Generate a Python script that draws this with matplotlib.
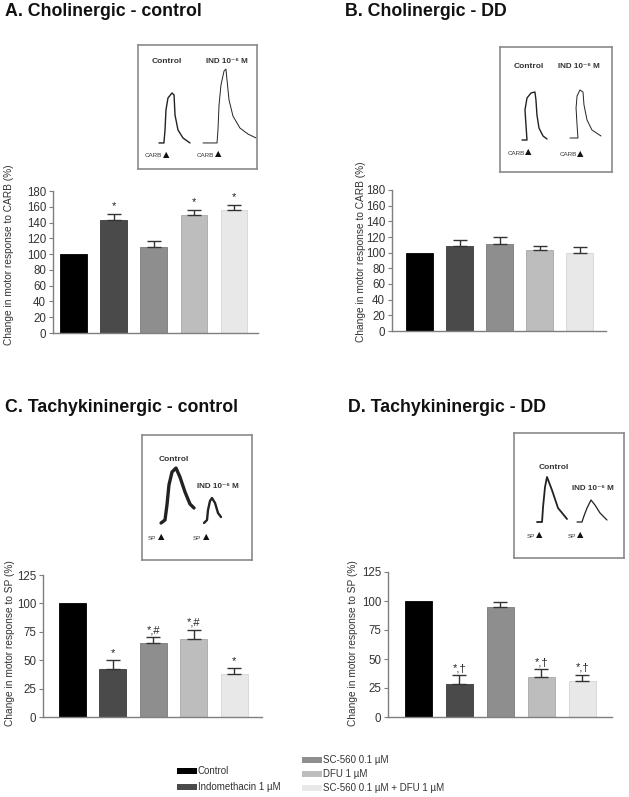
import matplotlib
matplotlib.use("Agg")
import matplotlib.pyplot as plt

plt.rcParams['font.family'] = ['Liberation Sans', 'DejaVu Sans']

groups = ['Control', 'Indomethacin 1 µM', 'SC-560 0.1 µM', 'DFU 1 µM',
          'SC-560 0.1 µM + DFU 1 µM']
colors = ['#000000', '#4a4a4a', '#8e8e8e', '#bdbdbd', '#e8e8e8']

# bar means and upper error (SEM) per panel
chol_ctrl = [100, 143, 109.5, 149.5, 155.5]
chol_ctrl_err = [0, 8, 6.5, 6.5, 7]
chol_ctrl_marks = ['', '*', '', '*', '*']

chol_dd = [100, 108.5, 111, 104, 99]
chol_dd_err = [0, 7.5, 8.5, 5, 8]
chol_dd_marks = ['', '', '', '', '']

tachy_ctrl = [100, 42, 65, 69, 37.5]
tachy_ctrl_err = [0, 8, 5.5, 8, 6]
tachy_ctrl_marks = ['', '*', '*,#', '*,#', '*']

tachy_dd = [100, 28.6, 94.6, 34.3, 31.4]
tachy_dd_err = [0, 7.7, 4.8, 7, 5.2]
tachy_dd_marks = ['', '*,†', '', '*,†', '*,†']

# inset tracings (percent of inset box)
trA_ctrl_x = [17.6, 21.8, 22.7, 23.5, 25.2, 28.6, 30.3, 31.1, 33.6, 37.8, 43.7]
trA_ctrl_y = [21, 21, 31.5, 47.6, 57.3, 61.3, 59.7, 43.5, 31.5, 25, 21]
trA_ind_x = [54.6, 66.4, 67.2, 68.1, 69.7, 72.3, 73.9, 74.8, 76.5, 79.8, 85.7, 92.4, 99.2]
trA_ind_y = [21, 21, 31.5, 51.6, 67.7, 79, 80.6, 71.8, 55.6, 42.7, 33, 28.2, 25]

trB_ctrl_x = [19.6, 24.1, 23.2, 22.3, 24.1, 27.7, 31.2, 32.1, 33, 34.8, 38.4, 42]
trB_ctrl_y = [25.6, 25.6, 37.6, 49.6, 59.2, 63.2, 64, 57.6, 45.6, 35.2, 28.8, 26.4]
trB_ind_x = [62.5, 69.6, 68.8, 67.9, 68.8, 71.4, 74.1, 75, 77.7, 82.1, 90.2]
trB_ind_y = [27.2, 27.2, 37.6, 51.2, 60.8, 65.6, 64, 53.6, 41.6, 33.6, 28.8]

trC_ctrl_x = [17.3, 20.9, 22.7, 24.5, 27.3, 30.9, 34.5, 39.1, 43.6, 47.3]
trC_ctrl_y = [29.6, 32, 44, 60, 70.4, 73.6, 66.4, 54.4, 44.8, 41.6]
trC_ind_x = [56.4, 59.1, 60, 61.8, 63.6, 66.4, 69.1, 71.8]
trC_ind_y = [29.6, 32, 40, 47.2, 49.6, 45.6, 37.6, 34.4]

trD_ctrl_x = [20.9, 25.5, 26.4, 28.2, 30, 34.5, 40, 48.2]
trD_ctrl_y = [28.8, 28.8, 40.8, 56.8, 64.8, 54.4, 40, 31.2]
trD_ind_x = [57.3, 61.8, 63.6, 66.4, 70, 73.6, 78.2, 84.5]
trD_ind_y = [28.8, 28.8, 33.6, 40, 46.4, 42.4, 36, 30.4]

W, H = 629, 797
fig = plt.figure(figsize=(W / 100, H / 100), dpi=100)


def px_axes(left, top, right, bottom):
    return fig.add_axes([left / W, 1 - bottom / H, (right - left) / W, (bottom - top) / H])


def bar_panel(box, vals, errs, marks, ylim, yticks, xlim, ylabel, labxy, mark_off):
    ax = px_axes(*box)
    x = list(range(len(vals)))
    ax.bar(x, vals, width=0.67, color=colors, edgecolor=['#000000', '#3a3a3a', '#7a7a7a', '#a8a8a8', '#d4d4d4'],
           linewidth=0.6)
    ax.errorbar(x[1:], vals[1:], yerr=[[0] * 4, errs[1:]], fmt='none', ecolor='#333333',
                elinewidth=1.0, capsize=5, capthick=1.0)
    for xi, v, e, m in zip(x, vals, errs, marks):
        if m:
            ax.text(xi, v + e + mark_off, m, ha='center', va='bottom', fontsize=8, color='#222222')
    ax.set_ylim(*ylim)
    ax.set_xlim(*xlim)
    ax.set_yticks(yticks)
    ax.set_xticks([])
    for s in ['top', 'right']:
        ax.spines[s].set_visible(False)
    for s in ['left', 'bottom']:
        ax.spines[s].set_color('#7f7f7f')
        ax.spines[s].set_linewidth(1.0)
    ax.tick_params(axis='y', length=3, width=0.8, color='#7f7f7f', labelsize=8.3,
                   labelcolor='#333333', pad=2)
    ax.set_ylabel(ylabel, fontsize=7.3, color='#333333')
    ax.yaxis.set_label_coords(*labxy)
    return ax


def inset(box, cx, cy, ix, iy, lw, ctrl_xy, ind_xy, stim, stim_xy):
    ax = px_axes(*box)
    ax.set_xlim(0, 100)
    ax.set_ylim(0, 100)
    ax.set_xticks([])
    ax.set_yticks([])
    for s in ax.spines.values():
        s.set_color('#8a8a8a')
        s.set_linewidth(1.2)
    ax.plot(cx, cy, color='#222222', lw=lw, solid_capstyle='round')
    ax.plot(ix, iy, color='#222222', lw=lw * 0.7, solid_capstyle='round')
    ax.text(ctrl_xy[0], ctrl_xy[1], 'Control', ha='center', va='center', fontsize=6,
            fontweight='bold', color='#333333')
    ax.text(ind_xy[0], ind_xy[1], 'IND 10⁻⁶ M', ha='center', va='center', fontsize=5.8,
            fontweight='bold', color='#333333')
    for sx, sy in stim_xy:
        ax.text(sx, sy, stim, ha='left', va='center', fontsize=4.5, color='#333333')
        ax.text(sx + len(stim) * 3.3 + 2, sy + 1.5, '▲', ha='left', va='center', fontsize=6,
                color='#111111', family=['DejaVu Sans'])
    return ax


bar_panel((53, 191, 258, 333), chol_ctrl, chol_ctrl_err, chol_ctrl_marks, (0, 180),
          range(0, 181, 20), (-0.52, 4.6), 'Change in motor response to CARB (%)', (-0.19, 0.55), 3)
bar_panel((392, 190, 606, 331), chol_dd, chol_dd_err, chol_dd_marks, (0, 180),
          range(0, 181, 20), (-0.69, 4.66), 'Change in motor response to CARB (%)', (-0.12, 0.56), 3)
bar_panel((43, 575, 262, 717), tachy_ctrl, tachy_ctrl_err, tachy_ctrl_marks, (0, 125),
          range(0, 126, 25), (-0.73, 4.69), 'Change in motor response to SP (%)', (-0.13, 0.52), 1.5)
bar_panel((388, 572, 612, 717), tachy_dd, tachy_dd_err, tachy_dd_marks, (0, 125),
          range(0, 126, 25), (-0.74, 4.72), 'Change in motor response to SP (%)', (-0.134, 0.51), 1.5)

inset((138, 45, 257, 169), trA_ctrl_x, trA_ctrl_y, trA_ind_x, trA_ind_y, 1.0,
      (24.4, 87), (75, 87), 'CARB', [(5.5, 10.5), (49.5, 11)])
inset((500, 47, 612, 172), trB_ctrl_x, trB_ctrl_y, trB_ind_x, trB_ind_y, 1.0,
      (26, 84), (70.5, 84), 'CARB', [(7, 15), (53.5, 13.6)])
inset((142, 435, 252, 560), trC_ctrl_x, trC_ctrl_y, trC_ind_x, trC_ind_y, 2.4,
      (29, 80.6), (68.6, 58.6), 'SP', [(5.5, 17.6), (46.4, 17.6)])
inset((514, 433, 624, 558), trD_ctrl_x, trD_ctrl_y, trD_ind_x, trD_ind_y, 1.3,
      (35.8, 72.6), (71.4, 56), 'SP', [(11.5, 17), (49, 17)])

titles = ['A. Cholinergic - control', 'B. Cholinergic - DD',
          'C. Tachykininergic - control', 'D. Tachykininergic - DD']
title_pos = [(5, 12), (345, 12), (5, 408), (348, 408)]
for t, (tx, ty) in zip(titles, title_pos):
    fig.text(tx / W, 1 - ty / H, t, ha='left', va='center', fontsize=12.8,
             fontweight='bold', color='#111111')

# legend
leg_pos = [(177, 771), (177, 787), (302, 760), (302, 774), (302, 788)]
for g, c, (lx, ly) in zip(groups, colors, leg_pos):
    fig.patches.append(plt.Rectangle((lx / W, 1 - (ly + 3) / H), 20 / W, 6 / H,
                                     transform=fig.transFigure, facecolor=c, edgecolor='none'))
    fig.text((lx + 21) / W, 1 - ly / H, g, ha='left', va='center', fontsize=7, color='#333333')

fig.savefig('out.png', dpi=100)
